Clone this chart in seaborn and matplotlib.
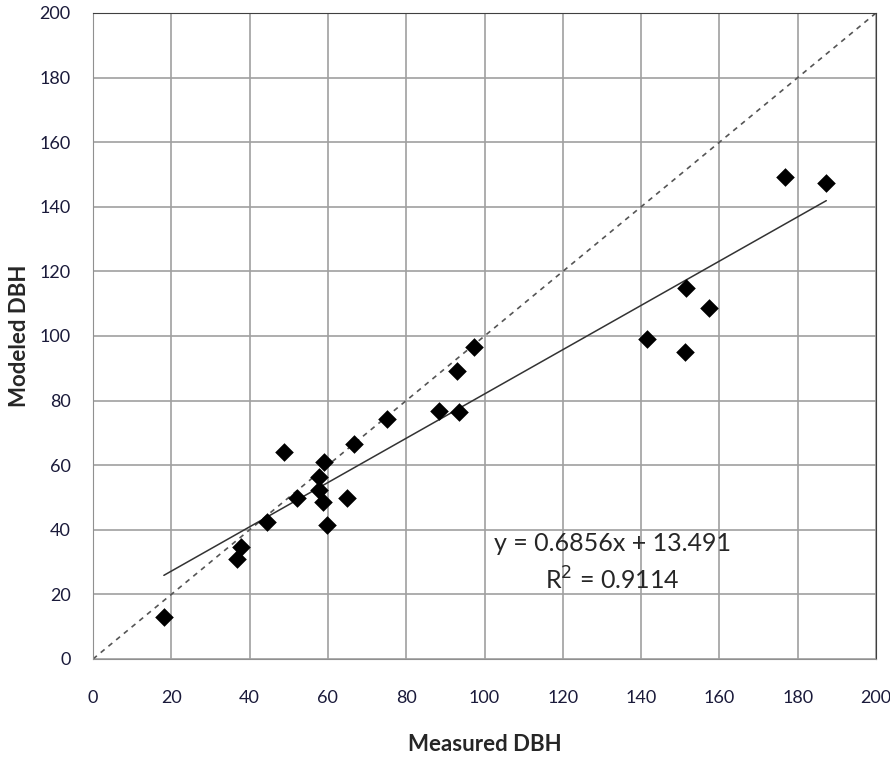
import numpy as np
import pandas as pd
import matplotlib
matplotlib.use("Agg")
import matplotlib.pyplot as plt
import seaborn as sns

# measured vs modeled DBH
measured = [18.1, 36.7, 37.8, 44.4, 48.9, 52.2, 57.7, 57.7, 58.8, 59.0, 59.7, 64.8,
            66.7, 75.1, 88.5, 93.5, 93.0, 97.4, 141.5, 151.2, 151.4, 157.4, 176.8, 187.3]
modeled = [13.0, 30.9, 34.6, 42.3, 64.0, 49.7, 56.2, 52.4, 48.5, 61.0, 41.5, 49.9,
           66.7, 74.2, 76.9, 76.5, 89.3, 96.6, 99.0, 95.0, 115.0, 108.8, 149.3, 147.3]

slope = 0.6856
intercept = 13.491
r2 = 0.9114

ticks = [0, 20, 40, 60, 80, 100, 120, 140, 160, 180, 200]

df = pd.DataFrame({"Measured DBH": measured, "Modeled DBH": modeled})

sns.set_style("white")
plt.rcParams['font.family'] = ['Lato', 'DejaVu Sans']

fig = plt.figure(figsize=(8.9, 7.6), dpi=100)
ax = fig.add_axes([0.1045, 0.1329, 0.8798, 0.85])

# 1:1 line
one = pd.DataFrame({"x": [0, 200], "y": [0, 200]})
sns.lineplot(data=one, x="x", y="y", ax=ax, color="#555555", linewidth=1.2,
             linestyle=(0, (3, 3)), zorder=2)

# trend line
xr = np.array([min(measured), max(measured)])
trend = pd.DataFrame({"x": xr, "y": slope * xr + intercept})
sns.lineplot(data=trend, x="x", y="y", ax=ax, color="#333333", linewidth=1.1, zorder=2)

sns.scatterplot(data=df, x="Measured DBH", y="Modeled DBH", ax=ax, marker="D",
                s=90, color="black", edgecolor="black", linewidth=0, zorder=3)

ax.set_xlim(0, 200)
ax.set_ylim(0, 200)
ax.set_xticks(ticks)
ax.set_yticks(ticks)
ax.grid(True, color="#a0a0a0", linewidth=1.2)
ax.set_axisbelow(True)
for side in ["left", "bottom"]:
    ax.spines[side].set_color("#909090")
for side in ["top", "right"]:
    ax.spines[side].set_color("#404040")
ax.tick_params(length=0, labelsize=13, colors="#1a1a3a")
ax.tick_params(axis="x", pad=22)
ax.tick_params(axis="y", pad=16)

ax.set_xlabel("Measured DBH", fontsize=16, fontweight="bold", va="center")
ax.xaxis.set_label_coords(0.5, -0.133)
ax.set_ylabel("Modeled DBH", fontsize=16, fontweight="bold", va="center")
ax.yaxis.set_label_coords(-0.094, 0.5)

ax.text(132.6, 35.9, f"y = {slope}x + {intercept}", fontsize=18, ha="center", va="center")
ax.text(132.6, 24.5, f"R$^2$ = {r2}", fontsize=18, ha="center", va="center")

fig.savefig("out.png", dpi=100)
